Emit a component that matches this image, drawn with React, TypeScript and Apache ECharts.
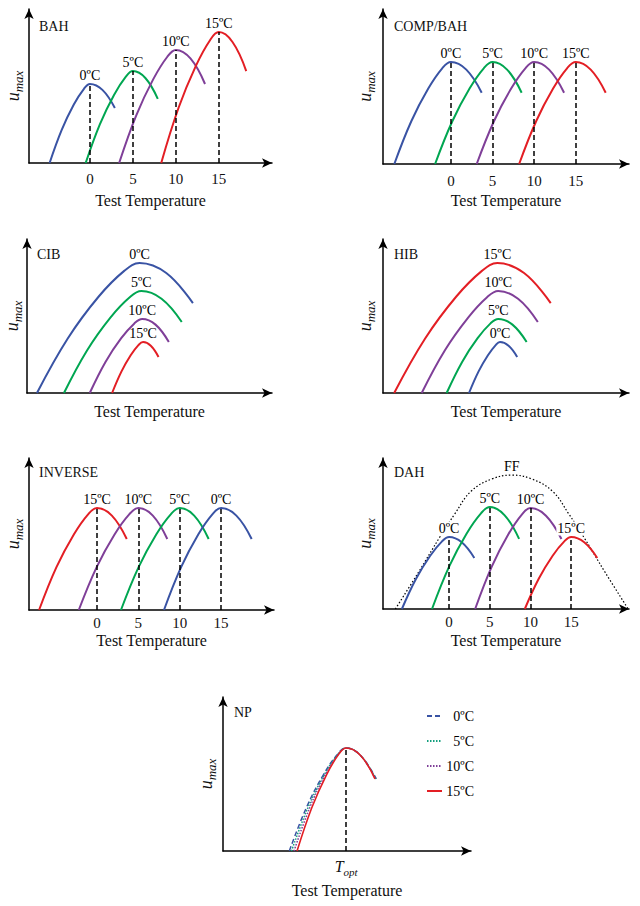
import React, { useEffect, useRef } from "react";
import * as echarts from "echarts";

// ---------- data ----------
const TICKS = [0, 5, 10, 15];
const TEMPS = ["0ºC", "5ºC", "10ºC", "15ºC"];

const BAH_0 = [[-4.7, 0], [-3.29, 21.5], [-1.88, 38.0], [-0.7, 48.2], [0, 51.3], [1.45, 47.5], [2.9, 35.7]];
const BAH_5 = [[-0.5, 0], [1.15, 25.1], [2.8, 44.2], [4.18, 56.1], [5, 59.7], [6.45, 55.2], [7.9, 41.6]];
const BAH_10 = [[3.4, 0], [5.38, 30.8], [7.36, 54.3], [9.01, 69.0], [10, 73.4], [11.7, 67.9], [13.4, 51.3]];
const BAH_15 = [[8.3, 0], [10.31, 35.7], [12.32, 62.9], [14.0, 79.9], [15, 85], [16.6, 78.6], [18.2, 59.7]];

const COMP_0 = [[-6.8, 0], [-4.76, 27.6], [-2.72, 48.7], [-1.02, 61.9], [0, 65.8], [1.85, 60.9], [3.7, 46]];
const COMP_5 = [[-1.9, 0], [0.17, 27.6], [2.24, 48.7], [3.97, 61.9], [5, 65.8], [6.75, 60.9], [8.5, 46]];
const COMP_10 = [[3.1, 0], [5.17, 27.6], [7.24, 48.7], [8.97, 61.9], [10, 65.8], [11.8, 60.9], [13.6, 46]];
const COMP_15 = [[8.2, 0], [10.24, 27.6], [12.28, 48.7], [13.98, 61.9], [15, 65.8], [16.8, 60.9], [18.6, 46]];

const CIB_0 = [[1.16, 0], [4.74, 35.4], [8.32, 62.5], [11.31, 79.3], [13.1, 84.4], [16.2, 77.9], [19.3, 58.4]];
const CIB_5 = [[4.3, 0], [7.0, 27.8], [9.7, 49.0], [11.95, 62.2], [13.3, 66.2], [15.65, 61.2], [18.0, 46.1]];
const CIB_10 = [[7.3, 0], [9.13, 20.2], [10.96, 35.6], [12.49, 45.2], [13.4, 48.1], [14.95, 44.4], [16.5, 33.1]];
const CIB_15 = [[9.9, 0], [10.98, 13.9], [12.06, 24.5], [12.96, 31.1], [13.5, 33.1], [14.4, 30.7], [15.3, 23.4]];

const HIB_15 = [[1.3, 0], [4.9, 35.4], [8.5, 62.5], [11.5, 79.3], [13.3, 84.4], [16.4, 77.9], [19.5, 58.4]];
const HIB_10 = [[4.5, 0], [7.2, 27.8], [9.9, 49.0], [12.1, 62.2], [13.4, 66.2], [15.7, 61.2], [18.0, 46.1]];
const HIB_5 = [[7.4, 0], [9.2, 20.2], [11.0, 35.6], [12.5, 45.2], [13.4, 48.1], [15.05, 44.4], [16.7, 33.1]];
const HIB_0 = [[10.0, 0], [11.1, 13.9], [12.2, 24.5], [13.1, 31.1], [13.6, 33.1], [14.6, 30.7], [15.6, 23.4]];

const INV_15 = [[-7, 0], [-4.9, 28.2], [-2.8, 49.7], [-1.05, 63.1], [0, 67.1], [1.8, 62.1], [3.6, 46.7]];
const INV_10 = [[-2.2, 0], [-0.04, 28.2], [2.12, 49.7], [3.92, 63.1], [5, 67.1], [6.75, 62.1], [8.5, 46.7]];
const INV_5 = [[2.9, 0], [5.03, 28.2], [7.16, 49.7], [8.94, 63.1], [10, 67.1], [11.75, 62.1], [13.5, 46.7]];
const INV_0 = [[8.1, 0], [10.17, 28.2], [12.24, 49.7], [13.97, 63.1], [15, 67.1], [16.85, 62.1], [18.7, 46.7]];

const DAH_0 = [[-5.8, 0], [-4.06, 20.0], [-2.32, 35.3], [-0.87, 44.8], [0, 47.7], [1.55, 44.2], [3.1, 33.8]];
const DAH_5 = [[-2.1, 0], [0.03, 28.4], [2.16, 50.0], [3.94, 63.5], [5, 67.5], [6.8, 62.2], [8.6, 46.4]];
const DAH_10 = [[3.2, 0], [5.24, 28.1], [7.28, 49.5], [8.98, 62.9], [10, 66.9], [11.9, 61.8], [13.8, 46.4]];
const DAH_15 = [[9.3, 0], [11.01, 20.0], [12.72, 35.3], [14.15, 44.8], [15, 47.7], [16.6, 44.2], [18.2, 33.8]];
const DAH_FF = [[-6.6, 0], [-3.8, 24], [-1.1, 48], [0.7, 63], [2.7, 78], [5.2, 86], [7.7, 88.7], [10.2, 86], [12.7, 78], [14.7, 63], [16.5, 48], [19.2, 24], [22.0, 0]];

const NP_0 = [[7.7, 0], [9.68, 28.1], [11.66, 49.5], [13.31, 62.9], [14.3, 66.9], [16.0, 61.9], [17.8, 46.8]];
const NP_5 = [[7.95, 0], [9.86, 28.1], [11.76, 49.5], [13.35, 62.9], [14.3, 66.9], [16.0, 61.9], [17.75, 46.8]];
const NP_10 = [[8.25, 0], [10.07, 28.1], [11.88, 49.5], [13.39, 62.9], [14.3, 66.9], [16.0, 61.9], [17.7, 46.8]];
const NP_15 = [[8.6, 0], [10.31, 28.1], [12.02, 49.5], [13.45, 62.9], [14.3, 66.9], [16.0, 61.9], [17.65, 46.8]];

// ---------- styles ----------
const FONT = "'Liberation Serif', 'DejaVu Serif', serif";
const INK = "#111111";
const BLUE = "#3953a4";
const GREEN = "#00a651";
const TEAL = "#149f7f";
const PURPLE = "#7f3f98";
const RED = "#e31e24";

const peakOf = (d: number[][]) => d.reduce((a, b) => (b[1] > a[1] ? b : a));

type Curve = { name: string; data: number[][]; color: string; type?: any; width?: number; label?: string };
type Panel = {
  title: string; tx: number; ty: number;
  grid: { left: number; top: number; width: number; height: number };
  xMin: number; xMax: number; ticks: number[] | null; labelMargin: number; nameGap: number; yGap: number;
  dashed: boolean; labelBg: boolean; peakLabels: boolean; curves: Curve[]; topt?: boolean;
};

const PANELS: Panel[] = [
  {
    title: "BAH", tx: 39, ty: 26, grid: { left: 29, top: 9, width: 243, height: 154 },
    xMin: -7.1, xMax: 21.2, ticks: TICKS, labelMargin: 8, nameGap: 29, yGap: 4, dashed: true, labelBg: false, peakLabels: true,
    curves: [
      { name: TEMPS[0], data: BAH_0, color: BLUE },
      { name: TEMPS[1], data: BAH_5, color: GREEN },
      { name: TEMPS[2], data: BAH_10, color: PURPLE },
      { name: TEMPS[3], data: BAH_15, color: RED },
    ],
  },
  {
    title: "COMP/BAH", tx: 394, ty: 26, grid: { left: 383, top: 9, width: 246, height: 155 },
    xMin: -8.16, xMax: 21.4, ticks: TICKS, labelMargin: 9, nameGap: 28, yGap: 6, dashed: true, labelBg: false, peakLabels: true,
    curves: [
      { name: TEMPS[0], data: COMP_0, color: BLUE },
      { name: TEMPS[1], data: COMP_5, color: GREEN },
      { name: TEMPS[2], data: COMP_10, color: PURPLE },
      { name: TEMPS[3], data: COMP_15, color: RED },
    ],
  },
  {
    title: "CIB", tx: 37, ty: 254, grid: { left: 27, top: 239, width: 245, height: 154 },
    xMin: 0, xMax: 28.5, ticks: null, labelMargin: 8, nameGap: 10, yGap: 3, dashed: false, labelBg: false, peakLabels: true,
    curves: [
      { name: TEMPS[0], data: CIB_0, color: BLUE },
      { name: TEMPS[1], data: CIB_5, color: GREEN },
      { name: TEMPS[2], data: CIB_10, color: PURPLE },
      { name: TEMPS[3], data: CIB_15, color: RED },
    ],
  },
  {
    title: "HIB", tx: 394, ty: 254, grid: { left: 383, top: 239, width: 246, height: 154 },
    xMin: 0, xMax: 28.6, ticks: null, labelMargin: 8, nameGap: 10, yGap: 6, dashed: false, labelBg: false, peakLabels: true,
    curves: [
      { name: TEMPS[3], data: HIB_15, color: RED },
      { name: TEMPS[2], data: HIB_10, color: PURPLE },
      { name: TEMPS[1], data: HIB_5, color: GREEN },
      { name: TEMPS[0], data: HIB_0, color: BLUE },
    ],
  },
  {
    title: "INVERSE", tx: 39, ty: 472, grid: { left: 29, top: 458, width: 245, height: 152 },
    xMin: -8.22, xMax: 21.4, ticks: TICKS, labelMargin: 5, nameGap: 22, yGap: 4, dashed: true, labelBg: false, peakLabels: true,
    curves: [
      { name: TEMPS[3], data: INV_15, color: RED },
      { name: TEMPS[2], data: INV_10, color: PURPLE },
      { name: TEMPS[1], data: INV_5, color: GREEN },
      { name: TEMPS[0], data: INV_0, color: BLUE },
    ],
  },
  {
    title: "DAH", tx: 394, ty: 472, grid: { left: 383, top: 458, width: 246, height: 151 },
    xMin: -8.12, xMax: 22.1, ticks: TICKS, labelMargin: 5, nameGap: 23, yGap: 6, dashed: true, labelBg: true, peakLabels: true,
    curves: [
      { name: "FF", data: DAH_FF, color: "#000", type: [1.5, 2], width: 1.2, label: "FF" },
      { name: TEMPS[0], data: DAH_0, color: BLUE },
      { name: TEMPS[1], data: DAH_5, color: GREEN },
      { name: TEMPS[2], data: DAH_10, color: PURPLE },
      { name: TEMPS[3], data: DAH_15, color: RED },
    ],
  },
  {
    title: "NP", tx: 234, ty: 712, grid: { left: 223, top: 697, width: 248, height: 154 },
    xMin: 0, xMax: 28.8, ticks: null, labelMargin: 7, nameGap: 31, yGap: 5, dashed: true, labelBg: false, peakLabels: false, topt: true,
    curves: [
      { name: TEMPS[0], data: NP_0, color: BLUE, type: [5, 3], width: 1.5 },
      { name: TEMPS[1], data: NP_5, color: TEAL, type: [1.5, 1.5], width: 1.5 },
      { name: TEMPS[2], data: NP_10, color: PURPLE, type: [1.5, 1.5], width: 1.5 },
      { name: TEMPS[3], data: NP_15, color: RED, width: 1.6 },
    ],
  },
];

function buildOption() {
  const grid: any[] = [];
  const xAxis: any[] = [];
  const yAxis: any[] = [];
  const series: any[] = [];
  const graphic: any[] = [];
  const axisLine = {
    show: true, onZero: false, symbol: ["none", "arrow"], symbolSize: [7, 10],
    lineStyle: { color: "#000", width: 1.5 },
  };

  PANELS.forEach((p, i) => {
    grid.push({ ...p.grid, containLabel: false, outerBoundsMode: "none" });
    let axisLabel: any = { show: false };
    if (p.ticks) {
      axisLabel = { show: true, customValues: p.ticks, margin: p.labelMargin, fontSize: 15, color: INK, fontFamily: FONT };
    } else if (p.topt) {
      const tx = peakOf(p.curves[p.curves.length - 1].data)[0];
      axisLabel = {
        show: true, customValues: [tx], margin: p.labelMargin,
        formatter: () => "{t|T}{s|opt}",
        rich: {
          t: { fontStyle: "italic", fontSize: 16, fontFamily: FONT, color: INK, verticalAlign: "bottom", padding: [0, 0, 3, 0] },
          s: { fontStyle: "italic", fontSize: 11, fontFamily: FONT, color: INK, verticalAlign: "bottom" },
        },
      };
    }
    xAxis.push({
      gridIndex: i, type: "value", min: p.xMin, max: p.xMax,
      axisLine, axisTick: { show: false }, splitLine: { show: false }, axisLabel,
      name: "Test Temperature", nameLocation: "middle", nameGap: p.nameGap,
      nameTextStyle: { fontSize: 16, color: INK, fontFamily: FONT },
    });
    yAxis.push({
      gridIndex: i, type: "value", min: 0, max: 100,
      axisLine, axisTick: { show: false }, splitLine: { show: false }, axisLabel: { show: false },
      name: "{u|u}{m|max}", nameLocation: "middle", nameRotate: 90, nameGap: p.yGap,
      nameTextStyle: {
        rich: {
          u: { fontStyle: "italic", fontSize: 18, lineHeight: 18, fontFamily: FONT, color: INK, verticalAlign: "bottom", padding: [0, 0, 3, 0] },
          m: { fontStyle: "italic", fontSize: 13, lineHeight: 13, fontFamily: FONT, color: INK, verticalAlign: "bottom" },
        },
      },
    });
    graphic.push({
      type: "text", x: p.tx, y: p.ty, silent: true,
      style: { text: p.title, fontSize: 14, fontFamily: FONT, fill: INK, verticalAlign: "middle" },
    });

    p.curves.forEach((c, ci) => {
      const pk = peakOf(c.data);
      const wantMark = p.dashed && !c.label && (!p.topt || ci === p.curves.length - 1);
      series.push({
        type: "line",
        name: p.topt ? c.name : `${p.title} ${c.name}`,
        xAxisIndex: i, yAxisIndex: i,
        data: c.data, smooth: 0.4, symbol: "none", silent: true,
        lineStyle: { color: c.color, width: c.width ?? 2, type: c.type ?? "solid" },
        itemStyle: { color: c.color },
        z: c.label ? 1 : 2,
        markLine: wantMark
          ? {
              silent: true, symbol: ["none", "none"], label: { show: false },
              lineStyle: { color: "#000", type: [5, 3], width: 1.5 },
              data: [[{ coord: [pk[0], 0] }, { coord: [pk[0], pk[1]] }]],
            }
          : undefined,
      });
    });

    if (p.peakLabels) {
      series.push({
        type: "scatter", xAxisIndex: i, yAxisIndex: i, symbolSize: 1, silent: true, z: 5,
        itemStyle: { color: "#ffffff", opacity: 0 },
        data: p.curves.map((c) => ({ name: c.label ?? c.name, value: peakOf(c.data) })),
        label: {
          show: true, position: "top", distance: 1, formatter: "{b}", opacity: 1,
          fontSize: 14, fontFamily: FONT, color: "#000", textBorderWidth: 0,
          backgroundColor: p.labelBg ? "#fff" : "transparent",
          padding: p.labelBg ? [0, 1] : 0,
        },
      });
    }
  });

  return {
    animation: false,
    backgroundColor: "#fff",
    textStyle: { fontFamily: FONT },
    grid, xAxis, yAxis, series, graphic,
    legend: {
      data: TEMPS, orient: "vertical", left: 421, top: 704,
      itemWidth: 15, itemHeight: 14, itemGap: 11, selectedMode: false,
      itemStyle: { opacity: 0 },
      formatter: (n: string) => `{r|${n}}`,
      textStyle: {
        fontSize: 14, fontFamily: FONT, color: "#000",
        rich: { r: { width: 27, align: "right", fontSize: 14, fontFamily: FONT, color: "#000" } },
      },
    },
  };
}

export default function App() {
  const ref = useRef<HTMLDivElement>(null);
  useEffect(() => {
    if (!ref.current) return;
    const chart = echarts.init(ref.current, undefined, { renderer: "svg" });
    chart.setOption(buildOption() as any);
    return () => chart.dispose();
  }, []);
  return (
    <div
      ref={ref}
      style={{ position: "absolute", left: 0, top: 0, width: 640, height: 906, background: "#fff" }}
    />
  );
}
